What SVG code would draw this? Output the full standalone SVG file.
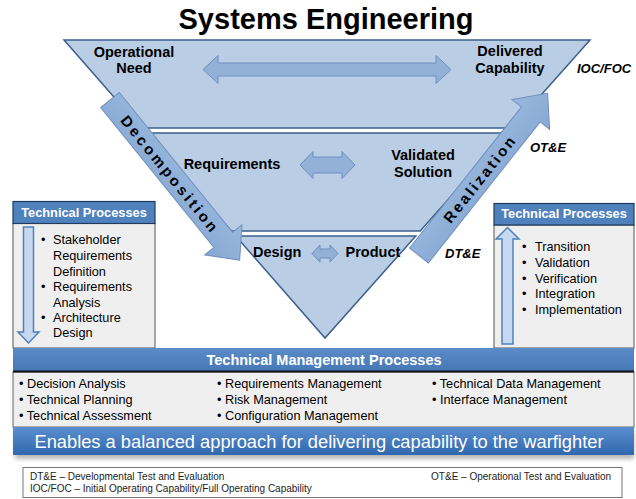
<svg xmlns="http://www.w3.org/2000/svg" width="636" height="499" viewBox="0 0 636 499">
<defs>
<style>
text{font-family:"Liberation Sans",Arial,sans-serif;fill:#000}
.b{font-weight:bold}
.lbl{font-weight:bold;font-size:14.5px;text-anchor:middle}
.it{font-weight:bold;font-style:italic;font-size:13px}
.band{fill:#b9cde5;stroke:#3c5f8e;stroke-width:1.5}
.big{fill:url(#bigG);stroke:#6f8fbd;stroke-width:1}
.dbl{fill:#93b1d8;stroke:#6f90c0;stroke-width:1}
.hdr{fill:#4f81bd;stroke:#1f3a60;stroke-width:1.2}
.body{fill:#efefef;stroke:#555;stroke-width:1}
.hdrt{font-weight:bold;font-size:12.8px;fill:#fff;text-anchor:middle}
.li{font-size:12.7px}
.mg{font-size:12.7px}
.vert{fill:#c6d9f1;stroke:#4f81bd;stroke-width:1.5}
.leg{font-size:10px;fill:#222}
.arrtxt{font-weight:bold;font-size:15px;text-anchor:middle}
</style>
<linearGradient id="bigG" x1="0" y1="0" x2="0" y2="1">
<stop offset="0" stop-color="#9ab8de"/>
<stop offset="1" stop-color="#86a8d3"/>
</linearGradient>
<linearGradient id="enG" x1="0" y1="0" x2="0" y2="1">
<stop offset="0" stop-color="#5a8fd0"/>
<stop offset="1" stop-color="#3167ad"/>
</linearGradient>
<linearGradient id="tmG" x1="0" y1="0" x2="0" y2="1">
<stop offset="0" stop-color="#5b8cc8"/>
<stop offset="1" stop-color="#4577b6"/>
</linearGradient>
<filter id="sh" x="-5%" y="-30%" width="110%" height="180%">
<feGaussianBlur stdDeviation="2"/>
</filter>
</defs>
<rect width="636" height="499" fill="#fff"/>

<g id="title"><text x="326" y="29" class="b" font-size="29" text-anchor="middle">Systems Engineering</text></g>

<g id="vee">
<polygon id="band1" class="band" points="64,40 590,40 511.8,128 141.1,128"/>
<polygon id="band2" class="band" points="145.5,133 507.3,133 420.2,231 231.3,231"/>
<polygon id="band3" class="band" points="235.7,236 415.8,236 325,338"/>
</g>

<g id="connectors">
<g id="decomposition" transform="translate(110,100) rotate(51)">
<polygon class="big" points="0,-12 180,-12 180,-24 206,0 180,24 180,12 0,12"/>
<text class="arrtxt" x="96" y="5.5" letter-spacing="3">Decomposition</text>
</g>
<g id="realization" transform="translate(419,255.5) rotate(-51.6)">
<polygon class="big" points="0,-12 180,-12 180,-24 207,0 180,24 180,12 0,12"/>
<text class="arrtxt" x="98" y="5.5" letter-spacing="2.6">Realization</text>
</g>
<polygon id="dbl-top" class="dbl" points="203,69.5 218,55.5 218,63 436,63 436,55.5 451,69.5 436,83.5 436,76 218,76 218,83.5"/>
<polygon id="dbl-mid" class="dbl" points="300,165 313,151.5 313,157 342,157 342,151.5 355,165 342,178.5 342,173 313,173 313,178.5"/>
<polygon id="dbl-bot" class="dbl" points="312,253.5 320,245 320,249 330,249 330,245 338,253.5 330,262 330,258 320,258 320,262"/>
</g>

<g id="operational-need"><text class="lbl" x="134" y="57">Operational</text><text class="lbl" x="134" y="73">Need</text></g>
<g id="delivered-capability"><text class="lbl" x="510" y="56">Delivered</text><text class="lbl" x="510" y="72.7">Capability</text></g>
<g id="ioc-foc"><text class="it" x="577" y="73">IOC/FOC</text></g>
<g id="requirements"><text class="lbl" x="232" y="169.3">Requirements</text></g>
<g id="validated-solution"><text class="lbl" x="423" y="160">Validated</text><text class="lbl" x="423" y="177">Solution</text></g>
<g id="ote"><text class="it" x="530" y="151.7">OT&amp;E</text></g>
<g id="design"><text class="lbl" x="253" y="257" text-anchor="start" style="text-anchor:start">Design</text></g>
<g id="product"><text class="lbl" x="345.5" y="257" style="text-anchor:start">Product</text></g>
<g id="dte"><text class="it" x="445" y="258.3">DT&amp;E</text></g>

<g id="tech-proc-left">
<rect class="body" x="13" y="223.5" width="142" height="124.5"/>
<rect class="hdr" x="13" y="201.5" width="142" height="22"/>
<text class="hdrt" x="84" y="217">Technical Processes</text>
<polygon class="vert" points="23.5,227 33.5,227 33.5,332 39,332 28.5,343 18,332 23.5,332"/>
<text class="li" x="41" y="244">•</text><text class="li" x="53" y="244">Stakeholder</text>
<text class="li" x="53" y="260">Requirements</text>
<text class="li" x="53" y="275.5">Definition</text>
<text class="li" x="41" y="291">•</text><text class="li" x="53" y="291">Requirements</text>
<text class="li" x="53" y="306.5">Analysis</text>
<text class="li" x="41" y="322">•</text><text class="li" x="53" y="322">Architecture</text>
<text class="li" x="53" y="337">Design</text>
</g>

<g id="tech-proc-right">
<rect class="body" x="494" y="225" width="140" height="123"/>
<rect class="hdr" x="494" y="203.5" width="140" height="21.5"/>
<text class="hdrt" x="564" y="218">Technical Processes</text>
<polygon class="vert" points="507.5,227.5 519,239 513,239 513,344 502,344 502,239 496,239"/>
<text class="li" x="522" y="251">•</text><text class="li" x="535" y="251">Transition</text>
<text class="li" x="522" y="267">•</text><text class="li" x="535" y="267">Validation</text>
<text class="li" x="522" y="282.5">•</text><text class="li" x="535" y="282.5">Verification</text>
<text class="li" x="522" y="298">•</text><text class="li" x="535" y="298">Integration</text>
<text class="li" x="522" y="313.5">•</text><text class="li" x="535" y="313.5">Implementation</text>
</g>

<g id="tech-mgmt">
<rect x="13" y="372" width="621" height="55" fill="#efefef" stroke="#666" stroke-width="1"/>
<rect x="13" y="348" width="621" height="24" fill="url(#tmG)"/>
<line x1="13" y1="371.5" x2="634" y2="371.5" stroke="#111" stroke-width="2"/>
<text x="324" y="365" class="b" font-size="14.5" fill="#fff" style="fill:#fff" text-anchor="middle">Technical Management Processes</text>
<text class="mg" x="19" y="388">• Decision Analysis</text>
<text class="mg" x="19" y="404">• Technical Planning</text>
<text class="mg" x="19" y="420">• Technical Assessment</text>
<text class="mg" x="217" y="388">• Requirements Management</text>
<text class="mg" x="217" y="404">• Risk Management</text>
<text class="mg" x="217" y="420">• Configuration Management</text>
<text class="mg" x="432" y="388">• Technical Data Management</text>
<text class="mg" x="432" y="404">• Interface Management</text>
</g>

<g id="enables">
<rect x="15" y="431" width="619" height="28" fill="#888" opacity="0.6" filter="url(#sh)"/>
<rect x="13" y="427" width="621" height="28" fill="url(#enG)"/>
<text x="319" y="448" font-size="18.3" style="fill:#fff" text-anchor="middle">Enables a balanced approach for delivering capability to the warfighter</text>
</g>

<g id="legend">
<rect x="23" y="467.5" width="599" height="30" fill="#fff" stroke="#777" stroke-width="1"/>
<text class="leg" x="30" y="480">DT&amp;E – Developmental Test and Evaluation</text>
<text class="leg" x="30" y="492">IOC/FOC – Initial Operating Capability/Full Operating Capability</text>
<text class="leg" x="611" y="480" text-anchor="end">OT&amp;E – Operational Test and Evaluation</text>
</g>
</svg>
